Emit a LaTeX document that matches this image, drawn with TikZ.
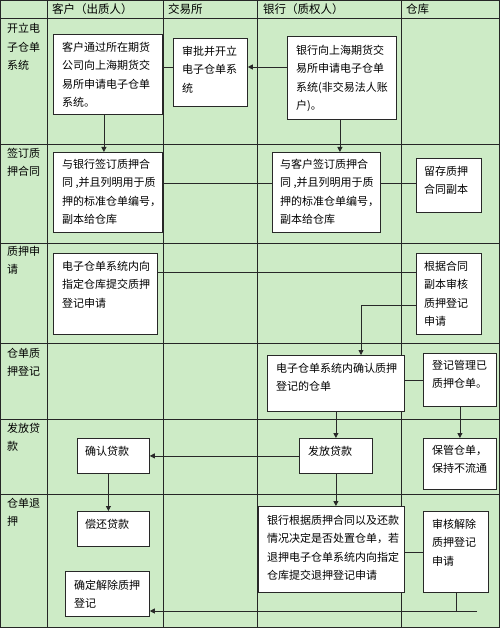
\documentclass[tikz,border=0pt]{standalone}
\usepackage{fontspec}
\setmainfont{Noto Sans CJK SC}
\usetikzlibrary{arrows.meta}
\definecolor{lanebg}{RGB}{205,235,198}
\definecolor{edge}{RGB}{40,40,40}

\begin{document}
\begin{tikzpicture}[x=1pt, y=-1pt,
      laneline/.style={draw=black!85, line width=0.8pt},
      hd/.style={font=\fontsize{11.5}{14}\selectfont, anchor=west, inner sep=0pt},
      lane/.style={font=\fontsize{11}{18.5}\selectfont, align=left, anchor=north west, inner sep=0pt},
      card/.style={draw=edge, fill=white, line width=0.8pt, inner sep=0pt, anchor=north west},
      txt/.style={font=\fontsize{11}{18.3}\selectfont, align=left, anchor=north west, inner sep=0pt},
      link/.style={draw=edge, line width=0.8pt},
      arr/.style={link, -{Triangle[length=5pt, width=5pt]}}
    ]
    \useasboundingbox (0,0) rectangle (500,628);
    \fill[lanebg] (0,0) rectangle (500,628);

    % Lanes
    \foreach \x in {47,163,257,401}
      \draw[laneline] (\x,0) -- (\x,628);
    \foreach \y in {18,144,243,343,419,494}
      \draw[laneline] (0,\y) -- (500,\y);
    \draw[laneline] (0.4,0.4) rectangle (499.6,627.6);

    % Header
    \node[hd] (hkh) at (52,9) {客户（出质人）};
    \node[hd] (hjy) at (168,9) {交易所};
    \node[hd] (hyh) at (263,9) {银行（质权人）};
    \node[hd] (hck) at (406,9) {仓库};

    % Stage labels
    \node[lane] (lb1) at (7,23) {开立电\\子仓单\\系统};
    \node[lane] (lb2) at (7,148) {签订质\\押合同};
    \node[lane] (lb3) at (7,246) {质押申\\请};
    \node[lane] (lb4) at (7,348) {仓单质\\押登记};
    \node[lane] (lb5) at (7,423) {发放贷\\款};
    \node[lane] (lb6) at (7,498) {仓单退\\押};

    % Row 1: opening the e-warehouse system
    \node[card, minimum width=109, minimum height=80] (kh1) at (53,34) {};
    \node[txt] (kh1t) at ([xshift=9pt, yshift=-8pt]kh1.north west)
      {客户通过所在期货\\公司向上海期货交\\易所申请电子仓单\\系统。};
    \node[card, minimum width=74, minimum height=68] (jy1) at (173,38) {};
    \node[txt] (jy1t) at ([xshift=9pt, yshift=-8pt]jy1.north west)
      {审批并开立\\电子仓单系\\统};
    \node[card, minimum width=109, minimum height=83] (yh1) at (287,36) {};
    \node[txt] (yh1t) at ([xshift=9pt, yshift=-9pt]yh1.north west)
      {银行向上海期货交\\易所申请电子仓单\\系统(非交易法人账\\户)。};

    % Row 2: pledge contract
    \node[card, minimum width=109, minimum height=80] (kh2) at (53,152) {};
    \node[txt] (kh2t) at ([xshift=9pt, yshift=-7pt]kh2.north west)
      {与银行签订质押合\\同 ,并且列明用于质\\押的标准仓单编号，\\副本给仓库};
    \node[card, minimum width=108, minimum height=80] (yh2) at (272,152) {};
    \node[txt] (yh2t) at ([xshift=8pt, yshift=-7pt]yh2.north west)
      {与客户签订质押合\\同 ,并且列明用于质\\押的标准仓单编号，\\副本给仓库};
    \node[card, minimum width=65, minimum height=54] (ck1) at (416,158) {};
    \node[txt] (ck1t) at ([xshift=8pt, yshift=-8pt]ck1.north west)
      {留存质押\\合同副本};

    % Row 3: pledge application
    \node[card, minimum width=104, minimum height=81] (kh3) at (53,253) {};
    \node[txt] (kh3t) at ([xshift=9pt, yshift=-8pt]kh3.north west)
      {电子仓单系统内向\\指定仓库提交质押\\登记申请};
    \node[card, minimum width=65, minimum height=81] (ck2) at (416,253) {};
    \node[txt] (ck2t) at ([xshift=8pt, yshift=-8pt]ck2.north west)
      {根据合同\\副本审核\\质押登记\\申请};

    % Row 4: pledge registration
    \node[card, minimum width=137, minimum height=56] (yh3) at (267,355) {};
    \node[txt] (yh3t) at ([xshift=9pt, yshift=-8pt]yh3.north west)
      {电子仓单系统内确认质押\\登记的仓单};
    \node[card, minimum width=73, minimum height=53] (ck3) at (423,353) {};
    \node[txt] (ck3t) at ([xshift=9pt, yshift=-7pt]ck3.north west)
      {登记管理已\\质押仓单。};

    % Row 5: loan release
    \node[card, minimum width=72, minimum height=35] (kh4) at (77,438) {};
    \node[txt] (kh4t) at ([xshift=8pt, yshift=-8pt]kh4.north west) {确认贷款};
    \node[card, minimum width=73, minimum height=35] (yh4) at (299,438) {};
    \node[txt] (yh4t) at ([xshift=9pt, yshift=-8pt]yh4.north west) {发放贷款};
    \node[card, minimum width=73, minimum height=51] (ck4) at (423,438) {};
    \node[txt] (ck4t) at ([xshift=9pt, yshift=-7pt]ck4.north west)
      {保管仓单，\\保持不流通};

    % Row 6: pledge release
    \node[card, minimum width=72, minimum height=35] (kh5) at (77,511) {};
    \node[txt] (kh5t) at ([xshift=8pt, yshift=-8pt]kh5.north west) {偿还贷款};
    \node[card, minimum width=146, minimum height=86] (yh5) at (258,506) {};
    \node[txt] (yh5t) at ([xshift=9pt, yshift=-9pt]yh5.north west)
      {银行根据质押合同以及还款\\情况决定是否处置仓单，若\\退押电子仓单系统内向指定\\仓库提交退押登记申请};
    \node[card, minimum width=65, minimum height=81] (ck5) at (423,511) {};
    \node[txt] (ck5t) at ([xshift=9pt, yshift=-8pt]ck5.north west)
      {审核解除\\质押登记\\申请};
    \node[card, minimum width=84, minimum height=45] (kh6) at (65,571) {};
    \node[txt] (kh6t) at ([xshift=9pt, yshift=-9pt]kh6.north west)
      {确定解除质押\\登记};

    % Connectors
    \coordinate (r1) at (0,67);
    \draw[link] (kh1.east |- r1) -- (jy1.west |- r1);
    \draw[arr] (yh1.west |- r1) -- (jy1.east |- r1);
    \draw[arr] ([xshift=-4pt]kh1.south) -- ([xshift=-4pt]kh2.north);
    \draw[arr] ([xshift=-2pt]yh1.south) -- ([xshift=-2pt]yh1.south |- yh2.north);

    \coordinate (r2) at (0,183);
    \draw[link] (kh2.east |- r2) -- (yh2.west |- r2);
    \draw[link] (yh2.east |- r2) -- (ck1.west |- r2);

    \coordinate (r3) at (0,272);
    \coordinate (c3) at (361,305);
    \draw[link] (kh3.east |- r3) -- (ck2.west |- r3);
    \draw[arr] (ck2.west |- c3) -- (c3) -- (c3 |- yh3.north);

    \draw[link] (yh3.east |- ck3.west) -- (ck3.west);
    \draw[arr] (yh3.south) -- (yh3.south |- yh4.north);
    \draw[arr] (ck3.south) -- (ck3.south |- ck4.north);

    \draw[arr] (yh4.west) -- (yh4.west -| kh4.east);
    \draw[arr] ([xshift=-5pt]kh4.south) -- ([xshift=-5pt]kh4.south |- kh5.north);
    \draw[arr] (yh4.south) -- (yh4.south |- yh5.north);

    \coordinate (r6) at (0,611);
    \coordinate (e6) at (477,611);
    \draw[link] (ck5.west) -- (ck5.west -| yh5.east);
    \draw[link] (ck5.south) -- (ck5.south |- r6);
    \draw[arr] (e6) -- (kh6.east |- r6);
  \end{tikzpicture}
\end{document}
